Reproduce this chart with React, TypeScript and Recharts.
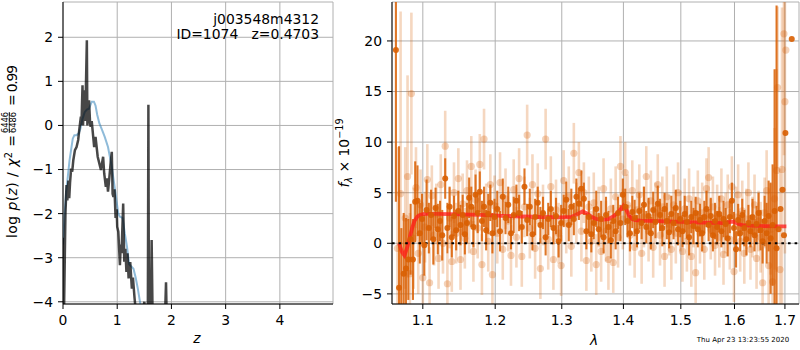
import React from "react"
import { LineChart, Line, XAxis, YAxis, CartesianGrid, ComposedChart, Scatter, ErrorBar, ReferenceLine } from "recharts"

const FONT = "DejaVu Sans"
const TICK = { fontSize: 13.9, fill: "#000", fontFamily: FONT }
const GRID = "#b0b0b0"

// left panel: log p(z)
const zTicks = [0, 1, 2, 3, 4]
const pzTicks = [-4, -3, -2, -1, 0, 1, 2]
const priorZ = [0.0, 0.03, 0.06, 0.09, 0.12, 0.15, 0.18, 0.21, 0.25, 0.29, 0.32, 0.36, 0.40, 0.44, 0.48, 0.53, 0.57, 0.60, 0.63, 0.67, 0.72, 0.77, 0.83, 0.90, 0.96, 1.02, 1.05, 1.07, 1.10, 1.14, 1.18, 1.22, 1.26, 1.30, 1.34, 1.38, 1.42, 1.46, 1.50]
const priorLogP = [-2.7, -2.0, -1.5, -1.15, -0.8, -0.55, -0.3, -0.22, -0.22, -0.18, -0.08, 0.15, 0.3, 0.36, 0.38, 0.54, 0.54, 0.45, 0.25, 0.05, -0.1, -0.26, -0.49, -0.94, -1.47, -2.0, -2.07, -2.08, -2.1, -2.45, -2.75, -3.15, -3.2, -3.25, -3.45, -3.7, -4.0, -4.3, -4.7]
const chiZ = [0.0, 0.005, 0.02, 0.045, 0.065, 0.08, 0.10, 0.115, 0.13, 0.15, 0.17, 0.19, 0.22, 0.25, 0.28, 0.30, 0.33, 0.34, 0.36, 0.37, 0.39, 0.41, 0.44, 0.45, 0.48, 0.50, 0.51, 0.53, 0.575, 0.60, 0.64, 0.67, 0.70, 0.74, 0.76, 0.79, 0.81, 0.83, 0.85, 0.875, 0.90, 0.915, 0.93, 0.95, 0.97, 0.99, 1.0, 1.02, 1.05, 1.065, 1.08, 1.11, 1.13, 1.15, 1.17, 1.19, 1.21, 1.24, 1.27, 1.29, 1.32, 1.35, 1.40, 1.45, 1.50, 1.53, 1.565, 1.575, 1.585, 1.62, 1.635, 1.655, 1.75, 1.85, 1.885, 1.90, 1.915, 2.0]
const chiLogP = [-4.6, -2.55, -4.1, -2.0, -1.35, -1.7, -1.25, -1.65, -1.3, -0.98, -1.05, -0.79, -0.56, -0.49, -0.33, -0.1, 0.2, 0.0, 0.91, 0.0, 0.8, 0.1, 1.93, 0.0, 0.57, 0.05, -0.03, 0.1, -0.49, -0.26, -0.71, -0.86, -1.01, -0.71, -1.09, -1.39, -1.2, -1.5, -1.25, -0.9, -0.6, -1.55, -1.62, -1.45, -2.1, -1.9, -2.3, -2.41, -3.17, -2.7, -2.9, -1.77, -3.09, -2.8, -3.32, -2.9, -3.47, -3.1, -3.7, -3.45, -3.92, -4.3, -4.2, -4.4, -4.0, -4.6, -4.3, 0.47, -4.5, -4.3, -2.6, -4.6, -5, -5, -4.2, -3.56, -4.5, -5.5]

// right panel: spectrum
const waveTicks = [1.1, 1.2, 1.3, 1.4, 1.5, 1.6, 1.7]
const fluxTicks = [-5, 0, 5, 10, 15, 20]
const darkWave = [1.065, 1.069, 1.072, 1.075, 1.078, 1.081, 1.084, 1.087, 1.090, 1.093, 1.096, 1.099, 1.102, 1.105, 1.108, 1.111, 1.114, 1.117, 1.120, 1.123, 1.126, 1.130, 1.133, 1.136, 1.139, 1.142, 1.145, 1.148, 1.151, 1.154, 1.157, 1.160, 1.163, 1.166, 1.169, 1.172, 1.175, 1.178, 1.181, 1.184, 1.187, 1.190, 1.193, 1.196, 1.199, 1.203, 1.207, 1.211, 1.215, 1.219, 1.223, 1.227, 1.231, 1.235, 1.239, 1.243, 1.247, 1.251, 1.255, 1.259, 1.263, 1.267, 1.271, 1.275, 1.279, 1.283, 1.287, 1.291, 1.295, 1.299, 1.303, 1.307, 1.311, 1.315, 1.319, 1.323, 1.327, 1.331, 1.335, 1.339, 1.343, 1.347, 1.351, 1.355, 1.359, 1.363, 1.367, 1.371, 1.375, 1.379, 1.383, 1.387, 1.391, 1.395, 1.399, 1.403, 1.407, 1.411, 1.415, 1.419, 1.423, 1.427, 1.431, 1.435, 1.439, 1.443, 1.447, 1.451, 1.455, 1.459, 1.463, 1.467, 1.471, 1.475, 1.479, 1.483, 1.487, 1.491, 1.495, 1.499, 1.503, 1.507, 1.511, 1.515, 1.519, 1.523, 1.527, 1.531, 1.535, 1.539, 1.543, 1.547, 1.551, 1.555, 1.559, 1.563, 1.567, 1.571, 1.575, 1.579, 1.583, 1.587, 1.591, 1.595, 1.599, 1.603, 1.607, 1.611, 1.615, 1.619, 1.623, 1.627, 1.631, 1.635, 1.639, 1.643, 1.647, 1.651, 1.655, 1.659, 1.663, 1.667, 1.671, 1.675, 1.679, 1.683, 1.687, 1.691, 1.695, 1.698, 1.701, 1.714]
const darkFlux = [19.1, -4.4, -7.5, -3.0, -2.5, -1.6, 0.4, -1.6, 4.1, 4.2, 1.0, 2.4, -0.2, 3.3, 1.5, 2.8, 0.4, 3.5, 1.4, 2.2, 0.8, 6.4, 1.5, 3.6, 0.6, 2.7, 1.3, 3.2, 1.8, 2.8, 0.9, 2.0, 4.5, 3.6, 1.6, 4.8, 3.0, 5.1, 2.2, 3.6, 1.3, 2.9, 4.0, 1.0, 2.6, 3.4, 1.2, 4.6, 2.5, 3.8, 1.0, 2.8, 4.2, 3.0, 1.6, 5.6, 2.3, 3.6, 0.9, 2.6, 4.0, 1.8, 3.0, 0.6, 2.4, 3.4, 1.5, 2.7, 0.2, 2.0, 3.2, 4.3, 1.8, 3.6, 2.4, 4.6, 3.9, 5.4, 4.4, 1.2, 2.6, 0.9, 2.0, 3.4, 1.4, 2.4, 0.6, 2.8, 1.6, 0.3, 2.2, 1.2, 3.0, 2.0, 4.8, 3.6, 2.2, 1.0, 3.1, 2.5, 1.2, 3.2, 2.0, 3.8, 1.6, 2.7, 1.0, 3.3, 2.1, 3.9, 2.8, 1.5, 3.4, 2.2, 1.1, 2.9, 2.0, 3.5, 1.4, 2.4, 1.2, 2.9, 2.1, 0.6, 2.6, 1.7, 3.0, 1.4, 2.3, 1.0, 2.6, 3.4, 1.8, 2.7, 0.8, 2.2, 1.6, 2.9, 1.2, 2.4, 1.9, 0.5, 2.6, 4.2, 1.5, -0.6, 2.3, 1.0, 2.8, 1.5, 0.4, 2.0, 1.2, 2.6, 0.8, 1.9, 3.0, 1.3, 0.2, 2.2, 1.0, 2.7, 0.5, 1.8, 3.2, -0.5, 1.4, 3.4, 5.3, 0.8, 10.9, 20.2]
const darkErr = [15, 14, 9, 6, 5, 4, 3.5, 4, 4, 3.5, 3, 2.5, 3, 3, 2.5, 2.5, 2.5, 2, 2.5, 2, 2.5, 2, 2.5, 2, 2, 2, 2, 2, 2, 2, 2, 2, 2, 2, 2, 2, 2, 2, 2, 2, 2, 2, 1.8, 2, 1.8, 1.8, 2, 1.8, 1.6, 1.8, 1.6, 1.8, 1.6, 1.8, 1.6, 1.8, 1.6, 1.8, 1.6, 1.8, 1.6, 1.8, 1.6, 1.8, 1.6, 1.8, 1.6, 1.8, 1.6, 1.8, 1.6, 1.8, 1.6, 1.8, 1.6, 1.8, 1.6, 1.8, 1.6, 1.8, 1.6, 1.8, 1.6, 1.8, 1.6, 1.8, 1.6, 1.8, 1.6, 1.8, 1.6, 1.8, 1.6, 1.8, 1.6, 1.8, 1.6, 1.8, 1.6, 1.8, 1.6, 1.8, 1.6, 1.8, 1.6, 1.8, 1.6, 1.8, 1.6, 1.8, 1.6, 1.8, 1.6, 1.8, 1.6, 1.8, 1.6, 1.8, 1.6, 1.8, 1.6, 1.8, 1.6, 1.8, 1.6, 1.8, 1.6, 1.8, 1.6, 1.8, 1.6, 1.8, 1.6, 1.8, 1.6, 1.8, 1.6, 1.8, 1.6, 1.8, 1.6, 1.8, 1.6, 1.8, 1.6, 1.8, 1.6, 1.8, 1.6, 1.8, 1.6, 1.8, 1.6, 1.8, 1.6, 1.8, 2, 2, 2.2, 2.5, 3, 3.5, 5.5, 6, 14, 24]
const lightWave = [1.067, 1.071, 1.077, 1.080, 1.083, 1.085, 1.088, 1.091, 1.094, 1.097, 1.100, 1.103, 1.106, 1.109, 1.112, 1.115, 1.118, 1.121, 1.124, 1.127, 1.130, 1.133, 1.136, 1.139, 1.142, 1.145, 1.148, 1.151, 1.154, 1.157, 1.160, 1.163, 1.166, 1.169, 1.172, 1.175, 1.178, 1.181, 1.184, 1.187, 1.190, 1.193, 1.196, 1.199, 1.203, 1.207, 1.211, 1.215, 1.219, 1.223, 1.227, 1.231, 1.235, 1.239, 1.243, 1.247, 1.251, 1.255, 1.259, 1.263, 1.267, 1.271, 1.275, 1.279, 1.283, 1.287, 1.291, 1.295, 1.299, 1.303, 1.307, 1.311, 1.315, 1.319, 1.323, 1.327, 1.331, 1.335, 1.339, 1.343, 1.347, 1.351, 1.355, 1.359, 1.363, 1.367, 1.371, 1.375, 1.379, 1.383, 1.387, 1.391, 1.395, 1.399, 1.403, 1.407, 1.411, 1.415, 1.419, 1.423, 1.427, 1.431, 1.435, 1.439, 1.443, 1.447, 1.451, 1.455, 1.459, 1.463, 1.467, 1.471, 1.475, 1.479, 1.483, 1.487, 1.491, 1.495, 1.499, 1.503, 1.507, 1.511, 1.515, 1.519, 1.523, 1.527, 1.531, 1.535, 1.539, 1.543, 1.547, 1.551, 1.555, 1.559, 1.563, 1.567, 1.571, 1.575, 1.579, 1.583, 1.587, 1.591, 1.595, 1.599, 1.603, 1.607, 1.611, 1.615, 1.619, 1.623, 1.627, 1.631, 1.635, 1.639, 1.643, 1.647, 1.651, 1.655, 1.659, 1.663, 1.667, 1.671, 1.675, 1.679, 1.683, 1.685, 1.690, 1.694, 1.698, 1.700, 1.702]
const lightFlux = [-0.5, 4.9, 2.5, 6.6, -3.0, 14.8, 0.5, 5.5, -1.0, 3.8, -3.4, 1.6, 6.3, -3.9, 4.7, 0.8, 2.9, -1.5, 5.8, 0.0, 9.6, -4.0, 2.5, -1.8, 5.0, 1.0, 6.4, -1.6, 3.9, 0.5, 5.2, 2.0, 7.6, -0.8, 4.3, 1.5, 7.8, -2.1, 10.3, 2.9, 0.2, 5.8, -3.1, 3.7, 1.0, 6.0, -0.6, 4.4, 2.2, -1.2, 5.3, 0.6, 6.4, -1.3, 3.6, 10.7, 1.5, 5.8, -0.5, 4.9, -2.5, 2.8, 10.3, 0.4, 5.6, -1.6, 3.3, 1.0, -2.2, 6.2, 2.0, 4.6, -0.3, 8.9, 3.0, 7.0, 1.2, 5.0, -1.7, 3.6, 0.2, 4.0, -2.1, 2.6, -0.8, 5.4, 1.2, -1.6, 3.4, -1.9, 4.6, 0.6, 7.6, 2.4, 7.0, 3.8, 0.8, 5.2, -0.4, 3.3, 4.8, -1.0, 2.6, 6.6, 1.2, 4.2, -0.4, 3.0, 5.8, 0.8, 3.6, -1.3, 4.6, 1.8, -0.6, 3.8, 1.0, 5.0, 2.2, -0.8, 3.4, 0.2, 4.4, -1.3, 2.6, -2.9, 4.2, 1.0, 3.0, -0.6, 5.4, 6.5, 1.4, 3.6, -0.2, 2.8, 0.6, 4.4, -1.1, 2.0, 3.8, 0.4, 5.6, -2.8, 2.6, 4.8, 0.2, 3.2, -1.0, 2.4, 5.0, -0.6, 1.6, 3.8, -1.5, 2.2, 0.6, -3.9, 3.0, 5.2, -2.2, 1.4, -3.8, 4.4, 7.2, 15.4, -2.6, 7.3, 20.7, 14.0, 19.1]
const lightErr = [10, 18, 7, 10, 6, 8, 5, 4, 4, 3.5, 3.5, 3.5, 3.5, 3.5, 3, 3, 3, 3, 3, 3, 3.5, 3, 3, 3, 3, 3, 3, 3, 3, 3, 3, 3, 3, 3, 3, 3, 3, 3, 3, 3, 3, 3, 3, 3, 3, 3, 3, 3, 3, 3, 3, 3, 3, 3, 3, 3, 3, 3, 3, 3, 3, 3, 3, 3, 3, 3, 3, 3, 3, 3, 3, 3, 3, 3, 3, 3, 3, 3, 3, 3, 3, 3, 3, 3, 3, 3, 3, 3, 3, 3, 3, 3, 3, 3, 3, 3, 3, 3, 3, 3, 3, 3, 3, 3, 3, 3, 3, 3, 3, 3, 3, 3, 3, 3, 3, 3, 3, 3, 3, 3, 3, 3, 3, 3, 3, 3, 3, 3, 3, 3, 3, 3, 3, 3, 3, 3, 3, 3, 3, 3, 3, 3, 3, 3, 3, 3, 3, 3, 3, 3, 3, 3, 3, 3, 3, 3, 3.5, 3.5, 3.5, 4, 4, 4.5, 5, 7, 10, 8, 10, 16, 12, 15]
const modelWave = [1.069, 1.073, 1.076, 1.080, 1.083, 1.086, 1.089, 1.093, 1.097, 1.102, 1.12, 1.15, 1.18, 1.21, 1.24, 1.27, 1.30, 1.315, 1.325, 1.333, 1.34, 1.348, 1.355, 1.365, 1.375, 1.383, 1.39, 1.395, 1.40, 1.405, 1.41, 1.415, 1.42, 1.43, 1.46, 1.50, 1.54, 1.58, 1.592, 1.598, 1.605, 1.615, 1.63, 1.66, 1.69, 1.703]
const modelFlux = [0.0, -0.9, -1.2, -0.3, 0.6, 1.5, 2.2, 2.65, 2.82, 2.9, 2.9, 2.85, 2.8, 2.72, 2.65, 2.6, 2.56, 2.6, 2.9, 3.15, 2.95, 2.6, 2.4, 2.35, 2.4, 2.65, 3.0, 3.35, 3.7, 3.3, 2.7, 2.4, 2.3, 2.25, 2.2, 2.12, 2.05, 2.0, 2.12, 2.15, 1.95, 1.8, 1.75, 1.7, 1.68, 1.67]

const priorData = priorZ.map((z, i) => ({ z, p: priorLogP[i] }))
const chiData = chiZ.map((z, i) => ({ z, p: chiLogP[i] }))
const darkData = darkWave.map((w, i) => ({ w, f: darkFlux[i], e: darkErr[i] }))
const lightData = lightWave.map((w, i) => ({ w, f: lightFlux[i], e: lightErr[i] }))
const modelData = modelWave.map((w, i) => ({ w, f: modelFlux[i] }))

const minus = (v: number) => String(v).replace("-", "\u2212")

const DarkDot = (p: any) => <circle cx={p.cx} cy={p.cy} r={3} fill="rgba(217,95,2,0.9)" />
const LightDot = (p: any) => <circle cx={p.cx} cy={p.cy} r={3.6} fill="rgba(217,95,2,0.28)" />

// error bars run past the axes, so the scatter layers get clipped to the plot box
const clipCss = `.spec .recharts-scatter, .spec .recharts-errorBars, .spec .recharts-errorBar { clip-path: url(#specClip); }`

function PzPanel() {
  return (
    <LineChart width={340} height={350} margin={{ top: 2, right: 7, left: 0, bottom: 0 }}>
      <CartesianGrid stroke={GRID} strokeWidth={1} />
      <XAxis dataKey="z" type="number" domain={[0, 4.98]} ticks={zTicks} allowDataOverflow height={46}
        tick={TICK} tickSize={5} tickMargin={6} stroke="#000" tickFormatter={minus} />
      <YAxis dataKey="p" type="number" domain={[-4.05, 2.8]} ticks={pzTicks} allowDataOverflow width={63}
        tick={TICK} tickSize={5} tickMargin={5} stroke="#000" tickFormatter={minus} />
      <XAxis xAxisId="top" orientation="top" type="number" domain={[0, 1]} height={0} tick={false} tickLine={false} stroke="#000" />
      <YAxis yAxisId="right" orientation="right" type="number" domain={[0, 1]} width={0} tick={false} tickLine={false} stroke="#000" />
      <Line data={priorData} dataKey="p" stroke="#1f77b4" strokeOpacity={0.5} strokeWidth={2} dot={false} isAnimationActive={false} />
      <Line data={chiData} dataKey="p" stroke="#000" strokeOpacity={0.72} strokeWidth={2.5} dot={false} isAnimationActive={false} />
    </LineChart>
  )
}

function SpecPanel() {
  return (
    <ComposedChart width={460} height={350} margin={{ top: 2, right: 1, left: 0, bottom: 0 }}>
      <CartesianGrid stroke={GRID} strokeWidth={1} />
      <XAxis dataKey="w" type="number" scale="log" domain={[1.06, 1.729]} ticks={waveTicks} allowDataOverflow height={46}
        tick={TICK} tickSize={5} tickMargin={6} stroke="#000" tickFormatter={(v: number) => v.toFixed(1)} />
      <YAxis dataKey="f" type="number" domain={[-6, 23.85]} ticks={fluxTicks} allowDataOverflow width={52}
        tick={TICK} tickSize={5} tickMargin={5} stroke="#000" tickFormatter={minus} />
      <XAxis xAxisId="top" orientation="top" type="number" domain={[0, 1]} height={0} tick={false} tickLine={false} stroke="#000" />
      <YAxis yAxisId="right" orientation="right" type="number" domain={[0, 1]} width={0} tick={false} tickLine={false} stroke="#000" />
      <Scatter data={lightData} dataKey="f" shape={LightDot} isAnimationActive={false}>
        <ErrorBar dataKey="e" direction="y" width={0} stroke="rgba(217,95,2,0.25)" strokeWidth={2.6} />
      </Scatter>
      <Scatter data={darkData} dataKey="f" shape={DarkDot} isAnimationActive={false}>
        <ErrorBar dataKey="e" direction="y" width={0} stroke="rgba(217,95,2,0.85)" strokeWidth={2.1} />
      </Scatter>
      <Line data={modelData} dataKey="f" stroke="#ff1a1a" strokeOpacity={0.75} strokeWidth={3.8} dot={false} isAnimationActive={false} />
      <ReferenceLine y={0} stroke="#000" strokeWidth={2} strokeDasharray="2.6 4" />
    </ComposedChart>
  )
}

export default function App() {
  const t = { fontFamily: FONT, fill: "#000" }
  return (
    <div style={{ position: "absolute", left: 0, top: 0, width: 800, height: 350, background: "#fff" }}>
      <style>{clipCss}</style>
      <svg width={0} height={0} style={{ position: "absolute" }}>
        <defs>
          <clipPath id="specClip"><rect x={52} y={2} width={407} height={302} /></clipPath>
        </defs>
      </svg>
      <div style={{ position: "absolute", left: 0, top: 0 }}><PzPanel /></div>
      <div className="spec" style={{ position: "absolute", left: 340, top: 0 }}><SpecPanel /></div>
      <svg width={800} height={350} style={{ position: "absolute", left: 0, top: 0, pointerEvents: "none" }}>
        <text {...t} x={319} y={24} fontSize={13.9} textAnchor="end">j003548m4312</text>
        <text {...t} x={319} y={39} fontSize={13.9} textAnchor="end" style={{ whiteSpace: "pre" }}>ID=1074   z=0.4703</text>
        <text {...t} x={197} y={343} fontSize={13.9} textAnchor="middle" fontStyle="italic">z</text>
        <text {...t} x={594} y={345} fontSize={13.9} textAnchor="middle" fontStyle="italic">λ</text>
        <text {...t} x={743} y={342} fontSize={7} textAnchor="middle">Thu Apr 23 13:23:55 2020</text>
        <g transform="translate(17,238) rotate(-90)">
          <text {...t} x={0} y={0} fontSize={13.9} textLength={103} lengthAdjust="spacing">log <tspan fontStyle="italic">p</tspan>(<tspan fontStyle="italic">z</tspan>) / <tspan fontStyle="italic">χ</tspan><tspan fontSize={9.7} dy={-5}>2</tspan><tspan dy={5}> =</tspan></text>
          <text {...t} x={115.5} y={-8.8} fontSize={8.3} textAnchor="middle">6446</text>
          <line x1={105} x2={126} y1={-7.7} y2={-7.7} stroke="#000" strokeWidth={0.8} />
          <text {...t} x={115.5} y={-1.2} fontSize={8.3} textAnchor="middle">6486</text>
          <text {...t} x={132} y={0} fontSize={13.9} textLength={41} lengthAdjust="spacing">= 0.99</text>
        </g>
        <g transform="translate(348.5,153) rotate(-90)">
          <text {...t} x={0} y={0} fontSize={13.9} textAnchor="middle"><tspan fontStyle="italic">f</tspan><tspan fontSize={9.7} dy={3} fontStyle="italic">λ</tspan><tspan dy={-3}> × 10</tspan><tspan fontSize={9.7} dy={-6}>−19</tspan></text>
        </g>
      </svg>
    </div>
  )
}
